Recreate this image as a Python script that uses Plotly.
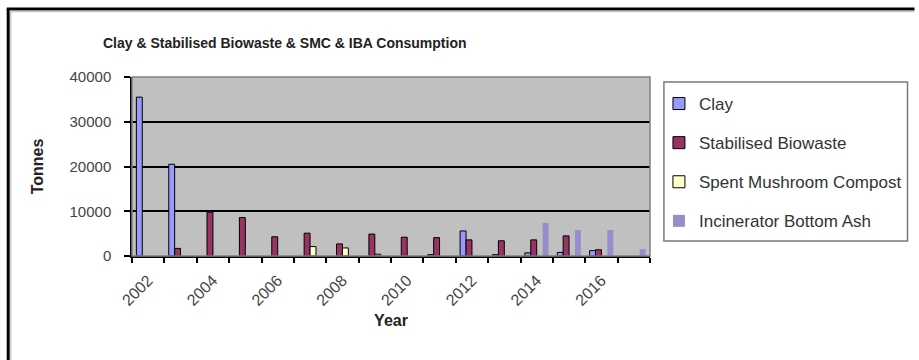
import plotly.graph_objects as go

years = list(range(2002, 2018))
clay = [35500, 20500, None, None, None, None, None, None, None, 300, 5600, 300, 700, 800, 1200, None]
stabilised_biowaste = [None, 1700, 9800, 8600, 4300, 5100, 2700, 4900, 4200, 4100, 3600, 3400, 3600, 4500, 1400, None]
spent_mushroom_compost = [None, None, None, None, None, 2100, 1800, 400, None, None, None, None, None, None, None, None]
incinerator_bottom_ash = [None] * 12 + [7400, 5800, 5800, 1500]
tick_years = [2002, 2004, 2006, 2008, 2010, 2012, 2014, 2016]
tick_labels = [str(y) for y in tick_years]

W, H = 919, 360
L, R, T, B = 132, 653, 77, 256


def px(x):
    return (x - L) / (R - L)


def py(y):
    return (B - y) / (B - T)


FONT = "Liberation Sans, Arial, sans-serif"

fig = go.Figure()
series = [
    ("Clay", clay, "#9999FF", 1),
    ("Stabilised Biowaste", stabilised_biowaste, "#993366", 1),
    ("Spent Mushroom Compost", spent_mushroom_compost, "#FFFFCC", 1),
    ("Incinerator Bottom Ash", incinerator_bottom_ash, "#9A8BCB", 0),
]
for name, vals, col, lw in series:
    fig.add_trace(go.Bar(
        x=years, y=vals, name=name, legendgroup=name,
        marker=dict(color=col, line=dict(color="black", width=lw)),
    ))

shapes = [
    # plot area border
    dict(type="rect", xref="paper", yref="paper", x0=0, x1=1, y0=0, y1=1,
         line=dict(color="#808080", width=1.5), fillcolor="rgba(0,0,0,0)", layer="above"),
    # legend box
    dict(type="rect", xref="paper", yref="paper", x0=px(667), x1=px(912), y0=py(82), y1=py(241),
         line=dict(color="#7a7a7a", width=1.5), fillcolor="white", layer="below"),
    # outer frame (top and left)
    dict(type="line", xref="paper", yref="paper", x0=px(6), x1=px(919), y0=py(9), y1=py(9),
         line=dict(color="black", width=3)),
    dict(type="line", xref="paper", yref="paper", x0=px(7.5), x1=px(7.5), y0=py(9), y1=py(360),
         line=dict(color="black", width=3)),
    dict(type="line", xref="paper", yref="paper", x0=px(9), x1=px(919), y0=py(11.5), y1=py(11.5),
         line=dict(color="#c8c8c8", width=1.5)),
    dict(type="line", xref="paper", yref="paper", x0=px(10), x1=px(10), y0=py(11), y1=py(360),
         line=dict(color="#c8c8c8", width=1.5)),
]

fig.update_layout(
    width=W, height=H, autosize=False,
    margin=dict(l=L, r=W - R, t=T, b=H - B, pad=0),
    paper_bgcolor="white", plot_bgcolor="#C0C0C0",
    barmode="group", bargap=0.27, bargroupgap=0,
    font=dict(family=FONT, color="#333333"),
    title=dict(text="<b>Clay & Stabilised Biowaste & SMC & IBA Consumption</b>",
               x=103 / W, xanchor="left", xref="container",
               y=1 - 43 / H, yanchor="middle", yref="container",
               font=dict(family=FONT, size=14, color="#222222")),
    xaxis=dict(
        range=[2001.5, 2017.5],
        tickmode="array", tickvals=tick_years, ticktext=tick_labels,
        tickangle=-45, ticks="", showgrid=False, zeroline=False,
        showline=True, linecolor="black", linewidth=1.5,
        tickfont=dict(size=16, color="#444444"), ticklabelstandoff=7,
        minor=dict(ticks="outside", ticklen=5, tickcolor="black", tickwidth=1.5,
                   tick0=2001.5, dtick=1, showgrid=False),
        title=dict(text="<b>Year</b>", font=dict(size=16, color="#222222"), standoff=7),
    ),
    yaxis=dict(
        range=[0, 40000], dtick=10000, tick0=0, tickformat="d",
        showgrid=True, gridcolor="black", gridwidth=1.5, zeroline=False,
        showline=True, linecolor="black", linewidth=1.5,
        ticks="outside", ticklen=6, tickcolor="black", tickwidth=1.5,
        tickfont=dict(size=15, color="#444444"), ticklabelstandoff=10,
        title=dict(text="<b>Tonnes</b>", font=dict(size=16, color="#222222"), standoff=22),
    ),
    legend=dict(
        x=px(662), xanchor="left", y=py(86), yanchor="top",
        bgcolor="rgba(0,0,0,0)", borderwidth=0,
        font=dict(size=17, color="#333333"),
        traceorder="grouped", tracegroupgap=14,
    ),
    shapes=shapes,
)

fig.write_html("out.html")
